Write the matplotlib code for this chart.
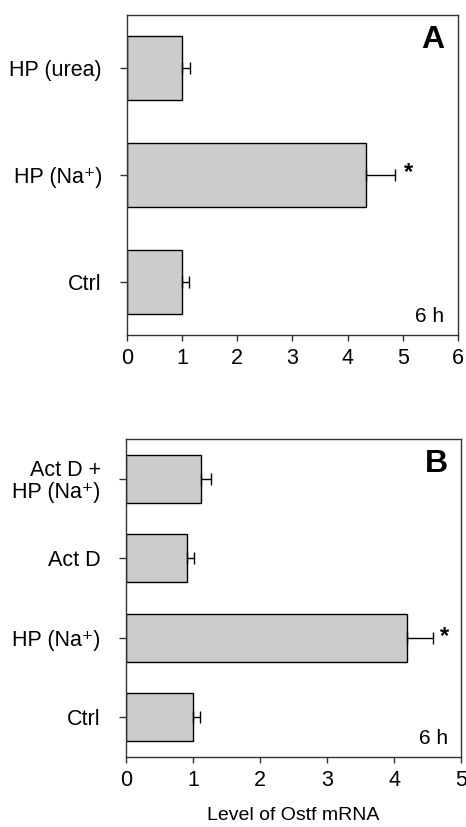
import matplotlib
matplotlib.use("Agg")
import matplotlib.pyplot as plt

plt.rcParams['font.family'] = ['Liberation Sans', 'DejaVu Sans']

# Panel A data
cats_a = ["Ctrl", "HP (Na\u207a)", "HP (urea)"]
vals_a = [1.0, 4.33, 1.0]
errs_a = [0.12, 0.53, 0.14]
sig_a = [False, True, False]

# Panel B data
cats_b = ["Ctrl", "HP (Na\u207a)", "Act D", "Act D +\nHP (Na\u207a)"]
vals_b = [1.0, 4.19, 0.91, 1.12]
errs_b = [0.10, 0.39, 0.10, 0.15]
sig_b = [False, True, False, False]

xticks_a = [0, 1, 2, 3, 4, 5, 6]
xticks_b = [0, 1, 2, 3, 4, 5]

fig = plt.figure(figsize=(4.66, 8.27), dpi=100)
axA = fig.add_axes([0.2725, 0.5949, 0.710, 0.387])
axB = fig.add_axes([0.2700, 0.0846, 0.720, 0.3845])

def draw(ax, cats, vals, errs, sig, xticks, letter, star_off):
    y = list(range(len(cats)))
    ax.barh(y, vals, height=0.6, color='#cccccc', edgecolor='black', linewidth=1.0, zorder=2)
    ax.errorbar(vals, y, xerr=[[0]*len(vals), errs], fmt='none', ecolor='black',
                elinewidth=1.0, capsize=4, capthick=1.0, zorder=3)
    for yi, v, e, s in zip(y, vals, errs, sig):
        if s:
            ax.text(v + e + star_off, yi + 0.02, '*', ha='center', va='center', fontsize=17,
                    fontweight='bold')
    ax.set_yticks(y)
    ax.set_yticklabels(cats, fontsize=15.5, linespacing=1.05)
    ax.set_xticks(xticks)
    ax.set_xticklabels([str(t) for t in xticks], fontsize=15.5)
    ax.set_xlim(xticks[0], xticks[-1])
    ax.set_ylim(-0.5, len(cats) - 0.5)
    ax.tick_params(axis='y', direction='out', length=5, width=1, pad=13, color='#333333')
    ax.tick_params(axis='x', direction='out', length=4, width=1, pad=5, color='#333333')
    for sp in ax.spines.values():
        sp.set_linewidth(1.0)
        sp.set_color('#333333')
    ax.text(0.96, 0.97, letter, transform=ax.transAxes, ha='right', va='top',
            fontsize=23, fontweight='bold')
    ax.text(0.96, 0.04, '6 h', transform=ax.transAxes, ha='right', va='baseline',
            fontsize=15)

draw(axA, cats_a, vals_a, errs_a, sig_a, xticks_a, 'A', 0.24)
draw(axB, cats_b, vals_b, errs_b, sig_b, xticks_b, 'B', 0.17)
axB.set_xlabel('Level of Ostf mRNA', fontsize=14, labelpad=12)

fig.savefig('out.png', dpi=100)
